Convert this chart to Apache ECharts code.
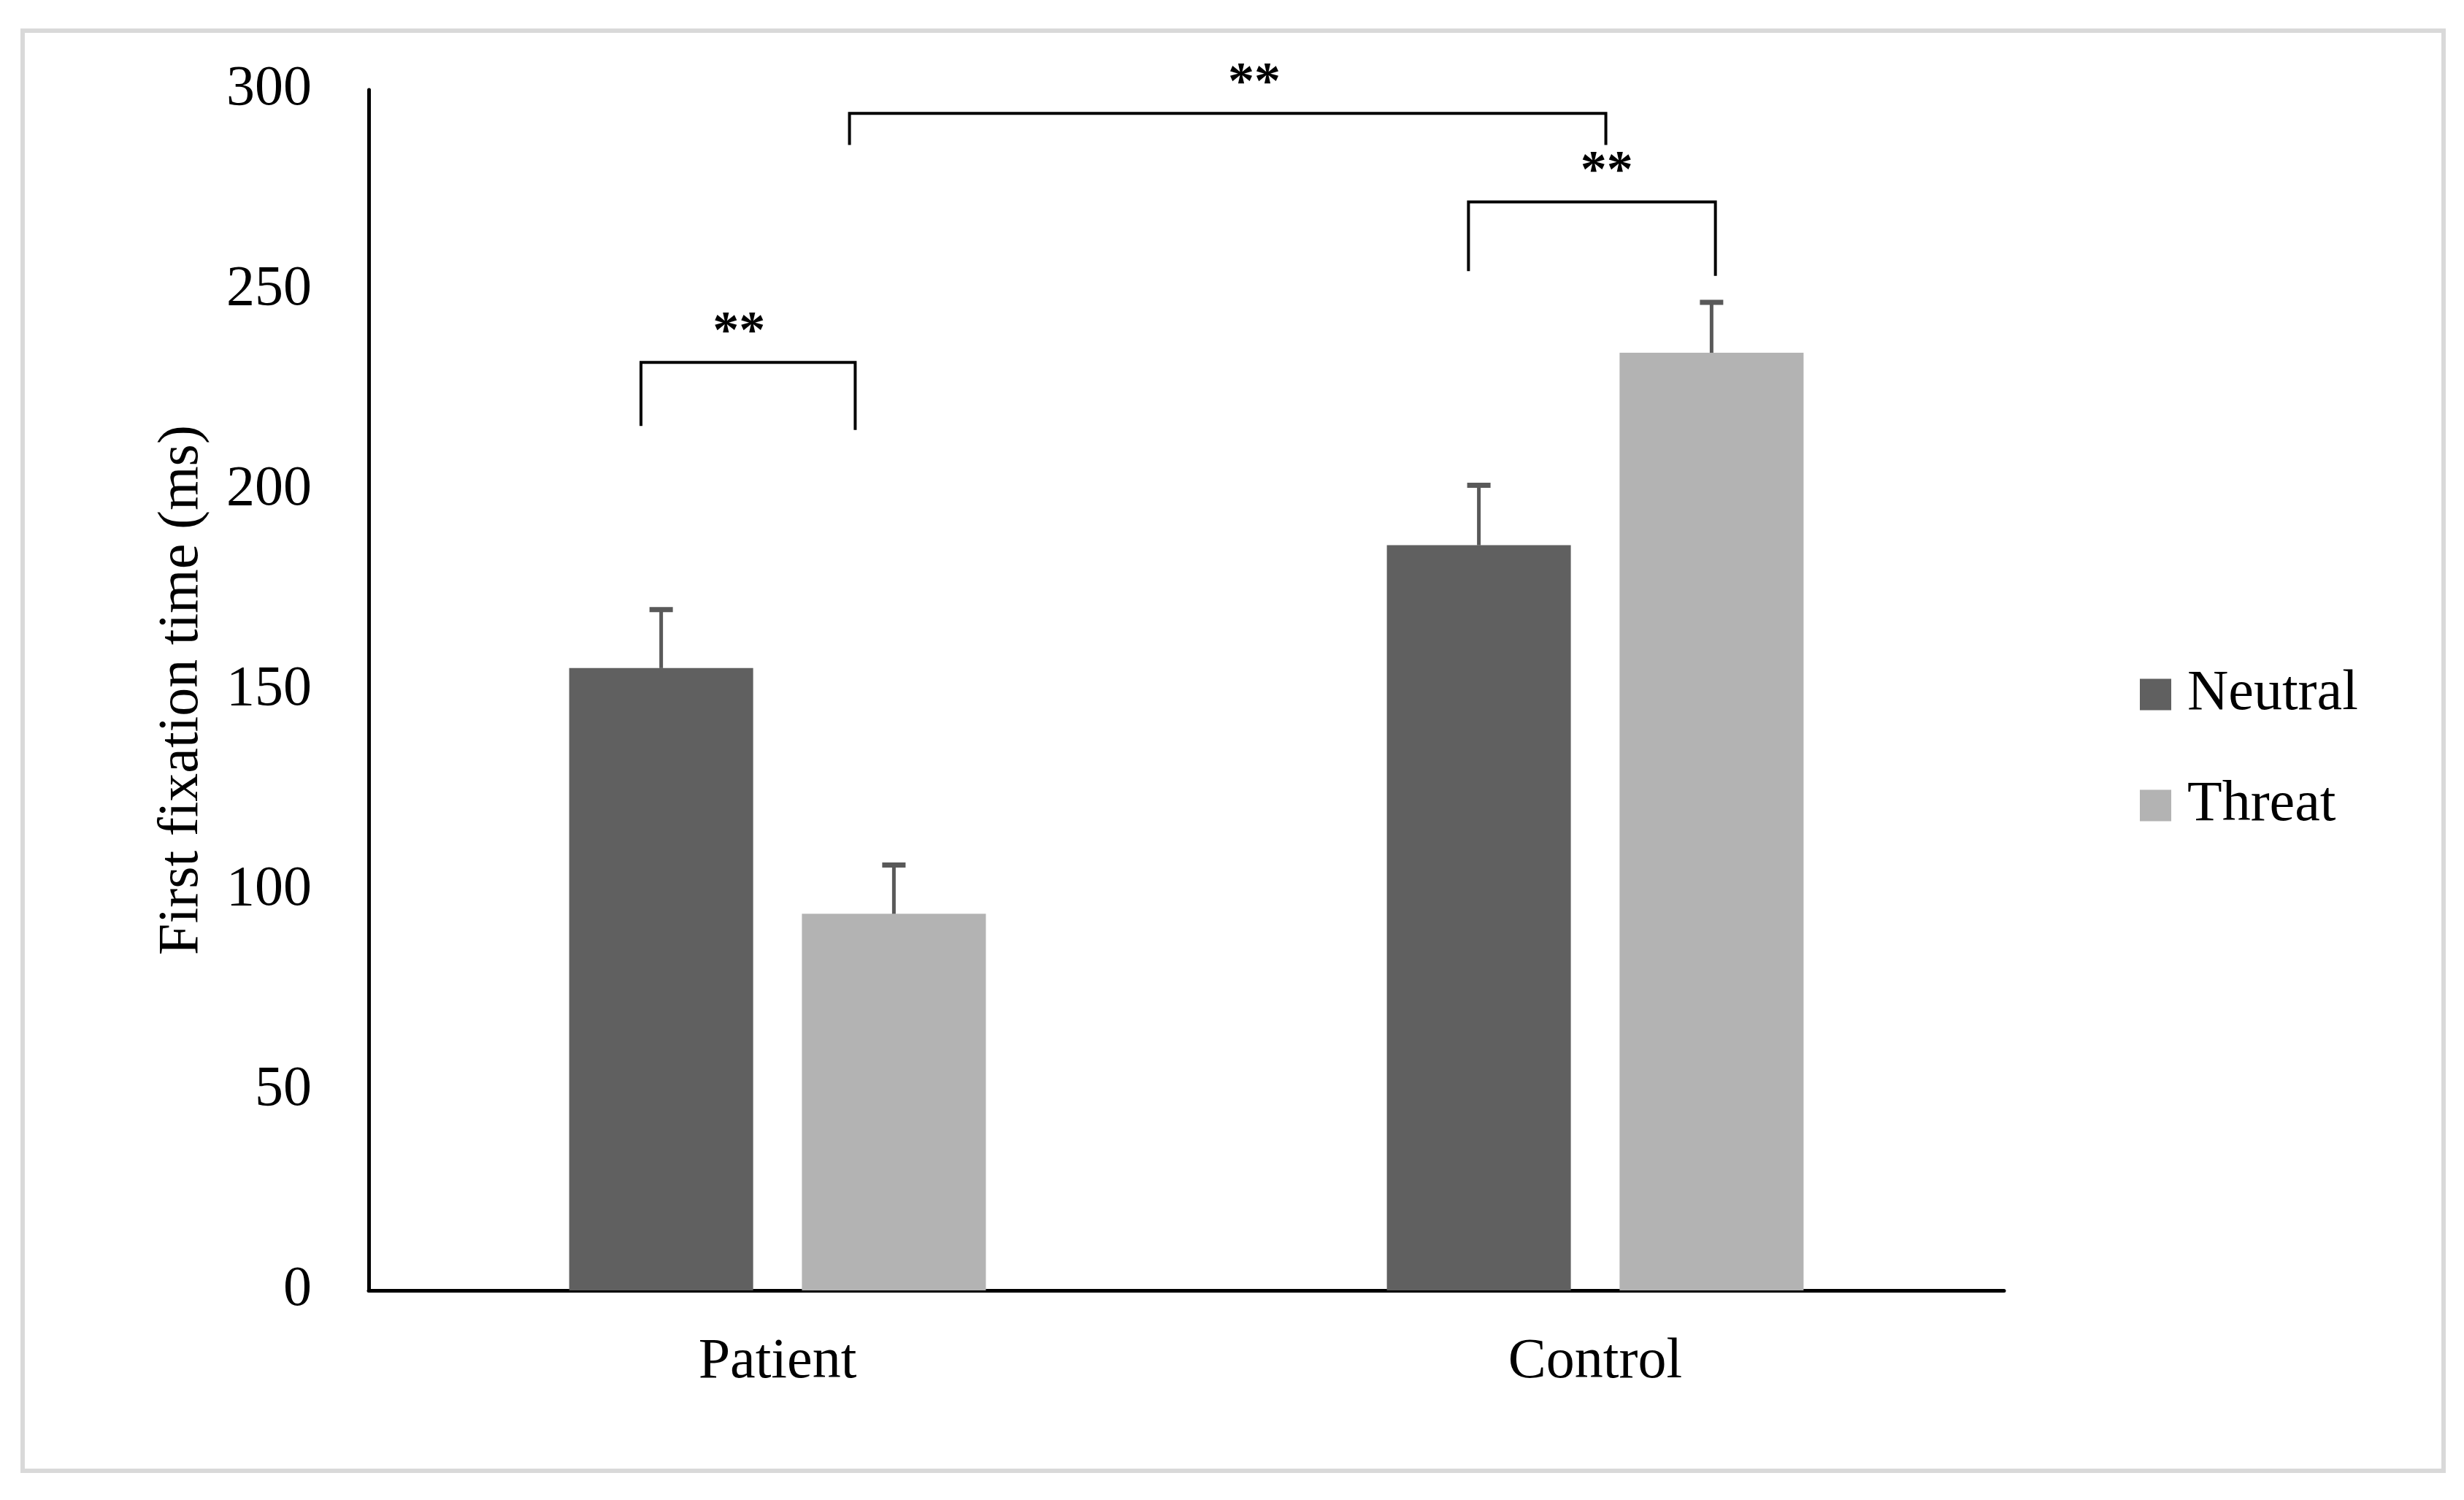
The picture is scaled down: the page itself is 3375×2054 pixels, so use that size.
<!DOCTYPE html>
<html>
<head>
<meta charset="utf-8">
<script src="https://cdn.jsdelivr.net/npm/echarts@6/dist/echarts.min.js"></script>
<style>
  html, body { margin: 0; padding: 0; background: #fff; }
  #chart { width: 3375px; height: 2054px; }
</style>
</head>
<body>
<div id="chart"></div>
<script>
var groups = ['Patient', 'Control'];
var neutral = [155.5, 186.2];
var neutralErr = [170.1, 201.2];
var threat = [94.1, 234.3];
var threatErr = [106.3, 246.9];
var yTicks = [0, 50, 100, 150, 200, 250, 300];

// significance brackets, x in category units (0..2), y in ms
var bracketX1 = [0.333, 0.588, 1.345];
var bracketX2 = [0.595, 1.513, 1.647];
var bracketTop = [231.9, 294.1, 272.0];
var bracketLeftEnd = [216.0, 286.2, 254.7];
var bracketRightEnd = [215.0, 286.2, 253.5];
var bracketLabel = ['**', '**', '**'];
var bracketLabelX = [0.453, 1.083, 1.514];

var font = '"Liberation Serif", "DejaVu Serif", serif';
var errColor = '#595959';

function errData(vals, errs) {
    return vals.map(function (v, i) { return [i, v, errs[i]]; });
}

function errRender(offset) {
    return function (params, api) {
        var base = api.coord([api.value(0), api.value(1)]);
        var top = api.coord([api.value(0), api.value(2)]);
        var bw = api.size([1, 0])[0];
        var x = base[0] + offset * bw;
        return {
            type: 'group',
            children: [
                {type: 'line', shape: {x1: x, y1: base[1], x2: x, y2: top[1]},
                    style: {stroke: errColor, lineWidth: 5}},
                {type: 'line', shape: {x1: x - 16, y1: top[1], x2: x + 16, y2: top[1]},
                    style: {stroke: errColor, lineWidth: 7}}
            ]
        };
    };
}

var brackets = bracketX1.map(function (x1, i) {
    return [x1, bracketX2[i], bracketTop[i], bracketLeftEnd[i], bracketRightEnd[i], bracketLabelX[i]];
});

var myChart = echarts.init(document.getElementById('chart'));
var option = {
    backgroundColor: '#fff',
    animation: false,
    graphic: [{
        type: 'rect',
        shape: {x: 31, y: 42, width: 3316, height: 1972},
        style: {fill: 'none', stroke: '#d9d9d9', lineWidth: 6},
        silent: true
    }],
    grid: {left: 505, right: 630, top: 123, bottom: 287},
    legend: {
        orient: 'vertical',
        left: 2926,
        top: 907,
        itemWidth: 43,
        itemHeight: 43,
        itemGap: 74,
        icon: 'rect',
        data: ['Neutral', 'Threat'],
        textStyle: {fontFamily: font, fontSize: 78, color: '#000', padding: [0, 0, 0, 17]}
    },
    xAxis: [{
        type: 'category',
        data: groups,
        axisLine: {lineStyle: {color: '#000', width: 5}},
        axisTick: {show: false},
        axisLabel: {fontFamily: font, fontSize: 78, color: '#000', margin: 60}
    }, {
        type: 'value',
        min: 0,
        max: 2,
        show: false
    }],
    yAxis: {
        type: 'value',
        min: yTicks[0],
        max: yTicks[yTicks.length - 1],
        interval: 50,
        name: 'First fixation time (ms)',
        nameLocation: 'middle',
        nameGap: 216,
        nameTextStyle: {fontFamily: font, fontSize: 78, color: '#000'},
        axisLine: {show: true, lineStyle: {color: '#000', width: 5}},
        axisTick: {show: false},
        splitLine: {show: false},
        axisLabel: {fontFamily: font, fontSize: 78, color: '#000', margin: 78}
    },
    series: [{
        name: 'Neutral',
        type: 'bar',
        data: neutral,
        barWidth: '22.5%',
        barGap: '26.5%',
        itemStyle: {color: '#606060'}
    }, {
        name: 'Threat',
        type: 'bar',
        data: threat,
        barWidth: '22.5%',
        barGap: '26.5%',
        itemStyle: {color: '#b3b3b3'}
    }, {
        type: 'custom',
        data: errData(neutral, neutralErr),
        renderItem: errRender(-0.1423),
        z: 5,
        silent: true
    }, {
        type: 'custom',
        data: errData(threat, threatErr),
        renderItem: errRender(0.1423),
        z: 5,
        silent: true
    }, {
        type: 'custom',
        xAxisIndex: 1,
        data: brackets,
        z: 6,
        silent: true,
        renderItem: function (params, api) {
            var p1 = api.coord([api.value(0), api.value(3)]);
            var p2 = api.coord([api.value(0), api.value(2)]);
            var p3 = api.coord([api.value(1), api.value(2)]);
            var p4 = api.coord([api.value(1), api.value(4)]);
            var lx = api.coord([api.value(5), api.value(2)])[0];
            return {
                type: 'group',
                children: [
                    {type: 'polyline', shape: {points: [p1, p2, p3, p4]},
                        style: {stroke: '#000', lineWidth: 4, fill: 'none'}},
                    {type: 'text', x: lx, y: p2[1] - 4,
                        style: {text: bracketLabel[params.dataIndex], fontFamily: font, fontSize: 72,
                            fontWeight: 'bold', fill: '#000', align: 'center', verticalAlign: 'bottom'}}
                ]
            };
        }
    }]
};
myChart.setOption(option);
</script>
</body>
</html>
